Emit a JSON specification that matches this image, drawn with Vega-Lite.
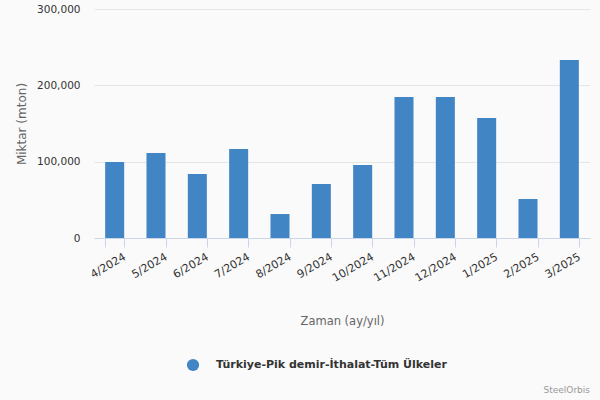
{
  "$schema": "https://vega.github.io/schema/vega-lite/v6.json",
  "autosize": "none",
  "width": 496,
  "height": 229,
  "padding": {"left": 94, "top": 9, "right": 10, "bottom": 162},
  "background": "#fafafa",
  "title": {
    "text": "SteelOrbis",
    "orient": "bottom",
    "anchor": "end",
    "fontSize": 9,
    "fontWeight": "normal",
    "color": "#999999",
    "offset": 14
  },
  "data": {
    "values": [
      {"month": "4/2024", "value": 99600, "series": "Türkiye-Pik demir-İthalat-Tüm Ülkeler"},
      {"month": "5/2024", "value": 111300, "series": "Türkiye-Pik demir-İthalat-Tüm Ülkeler"},
      {"month": "6/2024", "value": 83800, "series": "Türkiye-Pik demir-İthalat-Tüm Ülkeler"},
      {"month": "7/2024", "value": 116600, "series": "Türkiye-Pik demir-İthalat-Tüm Ülkeler"},
      {"month": "8/2024", "value": 31400, "series": "Türkiye-Pik demir-İthalat-Tüm Ülkeler"},
      {"month": "9/2024", "value": 70700, "series": "Türkiye-Pik demir-İthalat-Tüm Ülkeler"},
      {"month": "10/2024", "value": 95600, "series": "Türkiye-Pik demir-İthalat-Tüm Ülkeler"},
      {"month": "11/2024", "value": 184700, "series": "Türkiye-Pik demir-İthalat-Tüm Ülkeler"},
      {"month": "12/2024", "value": 184700, "series": "Türkiye-Pik demir-İthalat-Tüm Ülkeler"},
      {"month": "1/2025", "value": 157200, "series": "Türkiye-Pik demir-İthalat-Tüm Ülkeler"},
      {"month": "2/2025", "value": 51100, "series": "Türkiye-Pik demir-İthalat-Tüm Ülkeler"},
      {"month": "3/2025", "value": 233200, "series": "Türkiye-Pik demir-İthalat-Tüm Ülkeler"}
    ]
  },
  "mark": {"type": "bar"},
  "encoding": {
    "x": {
      "field": "month",
      "type": "nominal",
      "sort": null,
      "title": "Zaman (ay/yıl)",
      "scale": {"paddingInner": 0.54, "paddingOuter": 0.27},
      "axis": {
        "labelAngle": -30,
        "labelAlign": "right",
        "labelBaseline": "middle",
        "labelFontSize": 11,
        "labelColor": "#333333",
        "labelPadding": 9,
        "labelOffset": 10,
        "tickBand": "extent",
        "tickSize": 9,
        "tickColor": "#ccd6eb",
        "domainColor": "#ccd6eb",
        "titleFontSize": 11.5,
        "titleFontWeight": "normal",
        "titleColor": "#666666",
        "titlePadding": 32
      }
    },
    "y": {
      "field": "value",
      "type": "quantitative",
      "title": "Miktar (mton)",
      "scale": {"domain": [0, 300000]},
      "axis": {
        "values": [0, 100000, 200000, 300000],
        "format": ",.0f",
        "domain": false,
        "ticks": false,
        "labelPadding": 14,
        "labelFontSize": 10.5,
        "labelColor": "#333333",
        "gridColor": "#e6e6e6",
        "titleFontSize": 12,
        "titleFontWeight": "normal",
        "titleColor": "#666666",
        "titlePadding": 8
      }
    },
    "color": {
      "field": "series",
      "type": "nominal",
      "scale": {"range": ["#4285c4"]},
      "legend": {
        "title": null,
        "orient": "none",
        "legendX": 92,
        "legendY": 349,
        "symbolType": "circle",
        "symbolSize": 150,
        "labelFontSize": 11,
        "labelFontWeight": "bold",
        "labelColor": "#333333",
        "labelOffset": 16,
        "labelLimit": 400
      }
    }
  },
  "config": {
    "font": "DejaVu Sans",
    "view": {"stroke": null}
  }
}
